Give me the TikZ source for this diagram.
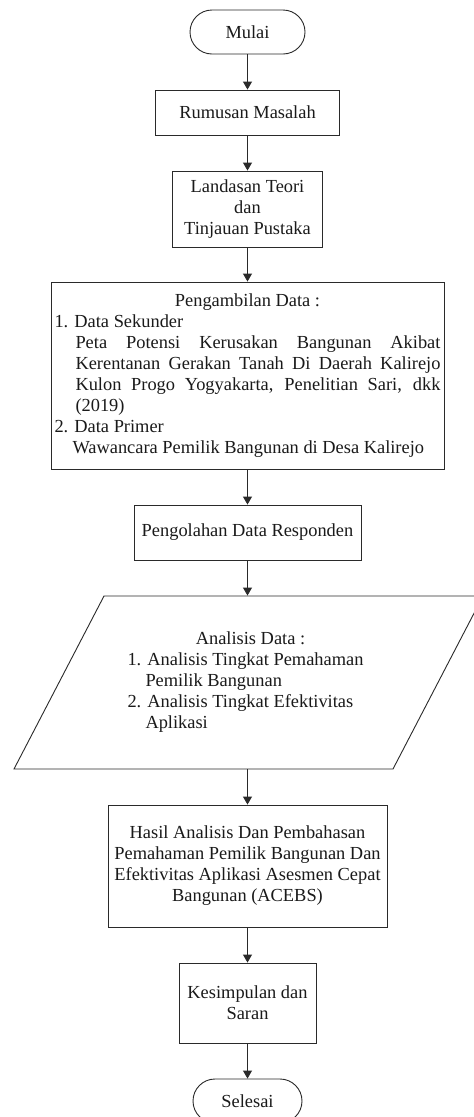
\documentclass[tikz,border=0pt]{standalone}
\usepackage{fontspec}
\setmainfont{Liberation Serif}
\usetikzlibrary{arrows.meta}
\definecolor{linec}{HTML}{2A2A2A}
\definecolor{textc}{HTML}{1A1A1A}
\tikzset{
  base/.style={draw=linec, line width=0.9pt, text=textc, align=center, inner sep=0pt,
    font=\fontsize{18.4}{21}\selectfont},
  procbox/.style={base, rectangle},
  termbox/.style={base, rectangle, rounded corners=22pt},
  arr/.style={draw=linec, line width=0.9pt, -{Triangle[length=8pt,width=9pt]}},
}
\begin{document}
\begin{tikzpicture}[x=1pt,y=-1pt]
\useasboundingbox (0,0) rectangle (474,1117);
\clip (0,0) rectangle (474,1117);
\fill[white] (0,0) rectangle (474,1117);

\node[termbox, minimum width=115pt, minimum height=44pt] (mulai) at (247.5,32) {Mulai};
\node[procbox, minimum width=184pt, minimum height=45pt] (rumusan) at (247.5,112.5) {Rumusan Masalah};
\node[procbox, minimum width=150pt, minimum height=76pt] (landasan) at (247.5,209) {Landasan Teori\\dan\\Tinjauan Pustaka};
\node[procbox, minimum width=393pt, minimum height=187pt] (ambil) at (247.5,375.5) {\parbox{386pt}{%
  {\centering Pengambilan Data :\par}
  1. Data Sekunder\par
  {\leftskip=21pt Peta Potensi Kerusakan Bangunan Akibat\linebreak Kerentanan Gerakan Tanah Di Daerah Kalirejo\linebreak Kulon Progo Yogyakarta, Penelitian Sari, dkk\linebreak (2019)\par}
  2. Data Primer\par
  {\leftskip=18pt Wawancara Pemilik Bangunan di Desa Kalirejo\par}}};
\node[procbox, minimum width=227pt, minimum height=55pt] (olah) at (247.5,532.5) {Pengolahan Data Responden};
\node[base, draw=none, minimum width=240pt, minimum height=173pt] (analisis) at (247.5,682.5) {\parbox{240pt}{%
  {\centering\hspace*{6pt}Analisis Data :\par}
  1. Analisis Tingkat Pemahaman\par
  \hspace*{18pt}Pemilik Bangunan\par
  2. Analisis Tingkat Efektivitas\par
  \hspace*{18pt}Aplikasi}};
\draw[draw=linec, line width=0.9pt] (104,596) -- (483,596) -- (393,769) -- (14,769) -- cycle;
\node[procbox, minimum width=279pt, minimum height=122pt] (hasil) at (247.5,866) {Hasil Analisis Dan Pembahasan\\Pemahaman Pemilik Bangunan Dan\\Efektivitas Aplikasi Asesmen Cepat\\Bangunan (ACEBS)};
\node[procbox, minimum width=137pt, minimum height=80pt] (simpul) at (247.5,1003) {Kesimpulan dan\\Saran};
\node[termbox, minimum width=109pt, minimum height=44pt] (selesai) at (247.5,1101) {Selesai};

\draw[arr] (mulai) -- (rumusan);
\draw[arr] (rumusan) -- (landasan);
\draw[arr] (landasan) -- (ambil);
\draw[arr] (ambil) -- (olah);
\draw[arr] (olah) -- (analisis.north);
\draw[arr] (analisis.south) -- (hasil);
\draw[arr] (hasil) -- (simpul);
\draw[arr] (simpul) -- (selesai);
\end{tikzpicture}
\end{document}
